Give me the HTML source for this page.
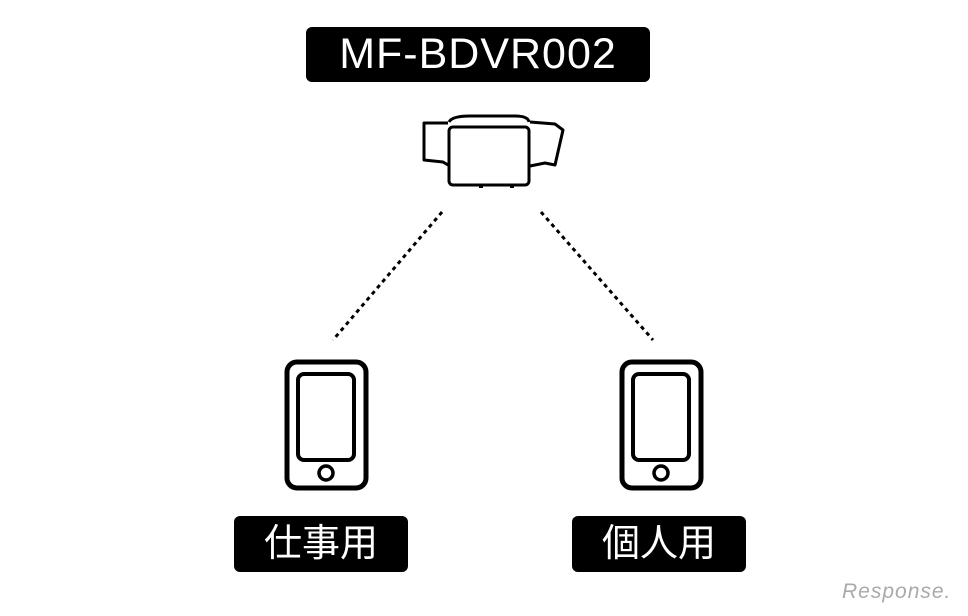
<!DOCTYPE html>
<html><head><meta charset="utf-8"><style>
body{margin:0;background:#fff;width:968px;height:616px;overflow:hidden;position:relative;font-family:"Liberation Sans","Noto Sans CJK JP",sans-serif}
.lb{position:absolute;background:#000;color:#fff;border-radius:6px;text-align:center}
</style></head><body>
<div class="lb" style="left:306px;top:27px;width:344px;height:55px;line-height:55px;font-size:43px;letter-spacing:1px">MF-BDVR002</div>
<div class="lb" style="left:234px;top:516px;width:174px;height:56px;line-height:56px;font-size:38px">仕事用</div>
<div class="lb" style="left:572px;top:516px;width:174px;height:56px;line-height:56px;font-size:38px">個人用</div>
<svg width="968" height="616" style="position:absolute;left:0;top:0" fill="none" stroke="#000">
<g stroke-width="3" stroke-linejoin="round">
<path d="M448 123 L424 123 L424 160 L443 162 L448 165"/>
<path d="M530 122 L555 124 L563 130 L555 165 L545 163 L530 166"/>
<path d="M449 122 Q452 116 470 116 L515 116 Q528 116 529 122"/>
<rect x="449" y="127" width="80" height="58" rx="4"/>
<path d="M481 184 v4 M512 184 v4" stroke-width="4"/>
</g>
<g stroke-width="5">
<rect x="287" y="362" width="79" height="126" rx="10"/>
<rect x="298" y="374" width="56" height="86" rx="6" stroke-width="4"/>
<circle cx="326" cy="473" r="7" stroke-width="3.5"/>
<rect x="622" y="362" width="79" height="126" rx="10"/>
<rect x="633" y="374" width="56" height="86" rx="6" stroke-width="4"/>
<circle cx="661" cy="473" r="7" stroke-width="3.5"/>
</g>
<g stroke-width="3" stroke-dasharray="4 4">
<line x1="442" y1="212" x2="333" y2="340"/>
<line x1="541" y1="212" x2="653" y2="340"/>
</g>
</svg>
<div style="position:absolute;left:842px;top:580px;font-size:21px;color:#aaa;font-style:italic;letter-spacing:1px">Response.</div>
</body></html>
